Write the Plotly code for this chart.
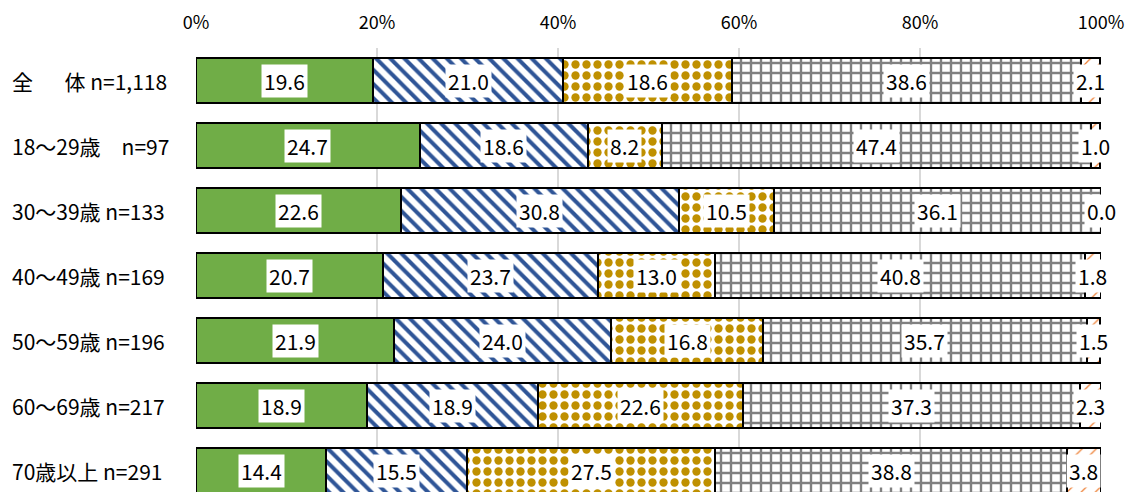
import plotly.graph_objects as go

categories = ["全\u3000\u2002体 n=1,118", "18～29歳\u3000n=97", "30～39歳 n=133", "40～49歳 n=169",
              "50～59歳 n=196", "60～69歳 n=217", "70歳以上 n=291"]
s1 = [19.6, 24.7, 22.6, 20.7, 21.9, 18.9, 14.4]
s2 = [21.0, 18.6, 30.8, 23.7, 24.0, 18.9, 15.5]
s3 = [18.6, 8.2, 10.5, 13.0, 16.8, 22.6, 27.5]
s4 = [38.6, 47.4, 36.1, 40.8, 35.7, 37.3, 38.8]
s5 = [2.1, 1.0, 0.0, 1.8, 1.5, 2.3, 3.8]
series = [s1, s2, s3, s4, s5]
x_ticks = [0, 20, 40, 60, 80, 100]

# page body has an 8px margin, so the figure is 8px smaller and shifted
OFF = 8
W, H = 1134 - OFF, 492 - OFF
ML, MR, MT, MB = 196 - OFF, 33, 48 - OFF, 0
FONT = "Noto Sans CJK JP"

styles = [
    dict(color="#70AD47"),
    dict(color="white", pattern=dict(shape="\\", fgcolor="#2F5597", bgcolor="white", size=10, solidity=0.4, fillmode="replace")),
    dict(color="white", pattern=dict(shape=".", fgcolor="#BF9000", bgcolor="white", size=11, solidity=0.45, fillmode="replace")),
    dict(color="white", pattern=dict(shape="+", fgcolor="#808080", bgcolor="white", size=10, solidity=0.42, fillmode="replace")),
    dict(color="white", pattern=dict(shape="/", fgcolor="#ED7D31", bgcolor="white", size=10, solidity=0.12, fillmode="replace")),
]

ypos = list(range(len(categories)))
fig = go.Figure()
for vals, st in zip(series, styles):
    fig.add_trace(go.Bar(
        y=ypos, x=vals, orientation="h", width=0.68,
        marker=dict(**st, line=dict(color="black", width=2)),
        hoverinfo="skip",
    ))

annotations = []
for i in range(len(categories)):
    cum = 0.0
    for vals in series:
        v = vals[i]
        annotations.append(dict(
            x=cum + v / 2, y=i, xref="x", yref="y", text=f"{v:.1f}",
            showarrow=False, bgcolor="white", borderpad=2, height=28,
            font=dict(family=FONT, size=21, color="black"),
        ))
        cum += v
    annotations.append(dict(
        x=(10 - 196) / (1134 - 196 - MR), y=i, xref="paper", yref="y", xanchor="left",
        text=categories[i], showarrow=False,
        font=dict(family=FONT, size=21, color="black"),
    ))

row_px = 65
plot_h = H - MT - MB
fig.update_layout(
    width=W, height=H, barmode="stack", showlegend=False,
    margin=dict(l=ML, r=MR, t=MT, b=MB, autoexpand=False),
    paper_bgcolor="white", plot_bgcolor="white",
    annotations=annotations, hovermode=False,
    font=dict(family=FONT, size=18, color="black"),
    xaxis=dict(range=[0, 100], side="top", tickvals=x_ticks,
               ticktext=[f"{t}%" for t in x_ticks],
               showgrid=True, gridcolor="#D9D9D9", gridwidth=1.5,
               zeroline=False, ticks="", ticklabelstandoff=14,
               tickfont=dict(family=FONT, size=18)),
    yaxis=dict(range=[plot_h / row_px - 0.5, -0.5], showticklabels=False,
               showgrid=False, zeroline=False, ticks=""),
)
fig.write_html("out.html")
